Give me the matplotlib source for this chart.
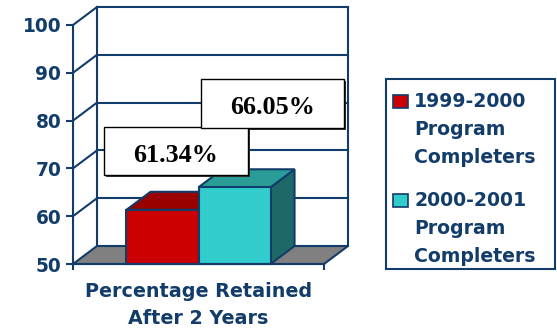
import matplotlib
matplotlib.use("Agg")
import matplotlib.pyplot as plt
from matplotlib.patches import Polygon, Rectangle

# ---- data ----
series_names = ["1999-2000\nProgram\nCompleters", "2000-2001\nProgram\nCompleters"]
values = [61.34, 66.05]
category = "Percentage Retained\nAfter 2 Years"
y_ticks = [50, 60, 70, 80, 90, 100]

# ---- style ----
NAVY = "#123C6A"
front_colors = ["#CC0000", "#33CCCC"]
top_colors = ["#990000", "#2A9D99"]
side_colors = ["#660000", "#1E6968"]
FLOOR = "#808080"

W, H = 557, 328
fig = plt.figure(figsize=(W / 100, H / 100), dpi=100)
fig.patch.set_facecolor("white")


def fx(px):
    return px / W


def fy(py):
    return 1 - py / H


# front plane of the plot area
ax = fig.add_axes([fx(73), fy(264), (324 - 73) / W, (264 - 25) / H])
ax.set_xlim(0, 1)
ax.set_ylim(50, 100)
ax.set_facecolor("none")

# depth offset of the 3D box (in data units)
dx = 24 / 251
dy = 18 * 50 / 239

LW = 1.5

# floor
ax.add_patch(Polygon([(0, 50), (1, 50), (1 + dx, 50 + dy), (dx, 50 + dy)],
                     closed=True, facecolor=FLOOR, edgecolor=NAVY, lw=LW,
                     clip_on=False, zorder=1))

# back wall outline and gridlines, plus diagonals from the front axis
ax.plot([dx, dx], [50 + dy, 100 + dy], color=NAVY, lw=LW, clip_on=False, zorder=1)
ax.plot([1 + dx, 1 + dx], [50 + dy, 100 + dy], color=NAVY, lw=LW, clip_on=False, zorder=1)
for v in y_ticks[1:]:
    ax.plot([dx, 1 + dx], [v + dy, v + dy], color=NAVY, lw=LW, clip_on=False, zorder=1)
    ax.plot([0, dx], [v, v + dy], color=NAVY, lw=LW, clip_on=False, zorder=1)

# 3D bars
bar_w = 0.287
group_center = 0.5
for i, v in enumerate(values):
    x0 = group_center - bar_w + i * bar_w
    x1 = x0 + bar_w
    side = [(x1, 50), (x1 + dx, 50 + dy), (x1 + dx, v + dy), (x1, v)]
    top = [(x0, v), (x1, v), (x1 + dx, v + dy), (x0 + dx, v + dy)]
    ax.add_patch(Polygon(side, closed=True, facecolor=side_colors[i],
                         edgecolor=NAVY, lw=LW, clip_on=False, zorder=2 + i))
    ax.add_patch(Polygon(top, closed=True, facecolor=top_colors[i],
                         edgecolor=NAVY, lw=LW, clip_on=False, zorder=2 + i))
    ax.add_patch(Rectangle((x0, 50), bar_w, v - 50, facecolor=front_colors[i],
                           edgecolor=NAVY, lw=LW, clip_on=False, zorder=2 + i))

# axes styling
for s in ["top", "right"]:
    ax.spines[s].set_visible(False)
for s in ["left", "bottom"]:
    ax.spines[s].set_color(NAVY)
    ax.spines[s].set_linewidth(LW)
    ax.spines[s].set_zorder(5)
ax.set_yticks(y_ticks)
ax.set_yticklabels([str(t) for t in y_ticks])
ax.set_xticks([0, 1])
ax.set_xticklabels([])
ax.tick_params(axis="y", direction="out", length=5, width=LW, color=NAVY,
               labelcolor=NAVY, labelsize=13.4, pad=3.5)
ax.tick_params(axis="x", direction="out", length=4, width=LW, color=NAVY)
for lab in ax.get_yticklabels():
    lab.set_fontweight("bold")
    lab.set_fontfamily("DejaVu Sans")

# category label under the floor, one text per line
cat_baselines = [297, 324]
for line, base in zip(category.split("\n"), cat_baselines):
    fig.text(fx(198.5), fy(base), line, ha="center", va="baseline",
             fontsize=13.8, fontweight="bold", family="DejaVu Sans", color=NAVY)

# value labels in boxes with a drop shadow
label_boxes = [(104, 127, 248, 175), (201, 79, 344, 128)]
label_baselines = [162, 114]
for (l, t, r, b), base, v in zip(label_boxes, label_baselines, values):
    fig.patches.append(Rectangle((fx(l + 2), fy(b + 2)), (r - l) / W, (b - t) / H,
                                 transform=fig.transFigure, facecolor="#333333",
                                 edgecolor="none", zorder=6))
    fig.patches.append(Rectangle((fx(l), fy(b)), (r - l) / W, (b - t) / H,
                                 transform=fig.transFigure, facecolor="white",
                                 edgecolor="black", lw=1.0, zorder=7))
    fig.text(fx((l + r) / 2), fy(base), f"{v:.2f}%", ha="center", va="baseline",
             fontsize=18.8, fontweight="bold", family="Liberation Serif",
             color="black", zorder=8)

# legend
fig.patches.append(Rectangle((fx(386), fy(269)), (555 - 386) / W, (269 - 79) / H,
                             transform=fig.transFigure, facecolor="white",
                             edgecolor=NAVY, lw=LW, zorder=6))
entry_top = [95, 194]
line_step = 28
for i, name in enumerate(series_names):
    mt = entry_top[i]
    fig.patches.append(Rectangle((fx(393), fy(mt + 13)), 15 / W, 13 / H,
                                 transform=fig.transFigure,
                                 facecolor=front_colors[i], edgecolor=NAVY,
                                 lw=1.2, zorder=7))
    for j, line in enumerate(name.split("\n")):
        fig.text(fx(414), fy(mt + 12 + j * line_step), line, ha="left",
                 va="baseline", fontsize=13.6, fontweight="bold",
                 family="DejaVu Sans", color=NAVY, zorder=8)

fig.savefig("out.png", dpi=100, facecolor="white")
